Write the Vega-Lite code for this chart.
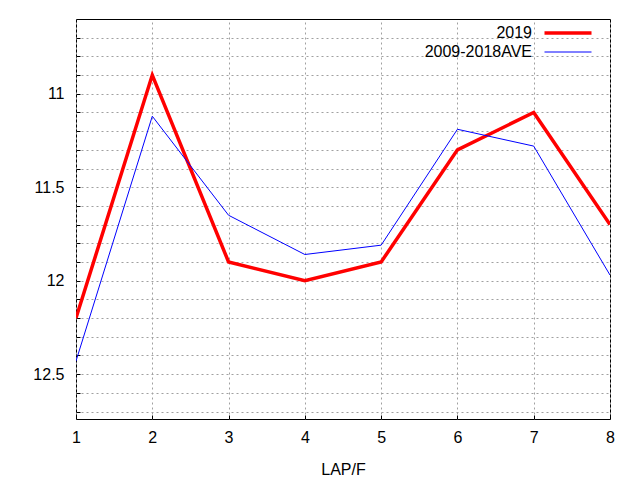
{
  "$schema": "https://vega.github.io/schema/vega-lite/v6.json",
  "autosize": "none",
  "padding": {"left": 76, "top": 19, "right": 30, "bottom": 61},
  "width": 534,
  "height": 400,
  "background": "white",
  "config": {
    "font": "Liberation Sans",
    "view": {"stroke": "black", "strokeWidth": 1},
    "axis": {
      "labelFont": "Liberation Sans",
      "labelFontSize": 16,
      "labelColor": "black",
      "labelFlush": false,
      "titleFont": "Liberation Sans",
      "titleFontSize": 16,
      "titleFontWeight": "normal",
      "titleColor": "black",
      "domain": false,
      "grid": true,
      "gridColor": "#a0a0a0",
      "gridDash": [2, 3],
      "gridWidth": 1,
      "tickColor": "black",
      "tickSize": -4
    }
  },
  "data": {
    "values": [
      {"lap": 1, "series": "2019", "time": 12.2},
      {"lap": 2, "series": "2019", "time": 10.9},
      {"lap": 3, "series": "2019", "time": 11.9},
      {"lap": 4, "series": "2019", "time": 12.0},
      {"lap": 5, "series": "2019", "time": 11.9},
      {"lap": 6, "series": "2019", "time": 11.3},
      {"lap": 7, "series": "2019", "time": 11.1},
      {"lap": 8, "series": "2019", "time": 11.7},
      {"lap": 1, "series": "2009-2018AVE", "time": 12.43},
      {"lap": 2, "series": "2009-2018AVE", "time": 11.12},
      {"lap": 3, "series": "2009-2018AVE", "time": 11.65},
      {"lap": 4, "series": "2009-2018AVE", "time": 11.86},
      {"lap": 5, "series": "2009-2018AVE", "time": 11.81},
      {"lap": 6, "series": "2009-2018AVE", "time": 11.19},
      {"lap": 7, "series": "2009-2018AVE", "time": 11.28},
      {"lap": 8, "series": "2009-2018AVE", "time": 11.97}
    ]
  },
  "mark": {"type": "line", "clip": true},
  "encoding": {
    "x": {
      "field": "lap",
      "type": "quantitative",
      "scale": {"domain": [1, 8], "nice": false, "zero": false},
      "axis": {
        "title": "LAP/F",
        "values": [1, 2, 3, 4, 5, 6, 7, 8],
        "format": "d",
        "labelPadding": 14,
        "titlePadding": 16
      }
    },
    "y": {
      "field": "time",
      "type": "quantitative",
      "scale": {"domain": [10.6, 12.74], "reverse": true, "nice": false, "zero": false},
      "axis": {
        "title": null,
        "values": [10.7, 10.8, 10.9, 11, 11.1, 11.2, 11.3, 11.4, 11.5, 11.6, 11.7, 11.8, 11.9, 12, 12.1, 12.2, 12.3, 12.4, 12.5, 12.6, 12.7],
        "labelExpr": "datum.value == 11 || datum.value == 11.5 || datum.value == 12 || datum.value == 12.5 ? '' + datum.value : ''",
        "labelPadding": 16
      }
    },
    "color": {
      "field": "series",
      "type": "nominal",
      "scale": {"domain": ["2019", "2009-2018AVE"], "range": ["#ff0000", "#0000ff"]},
      "legend": {
        "title": null,
        "orient": "none",
        "legendX": 484,
        "legendY": 6,
        "padding": 0,
        "symbolType": "stroke",
        "symbolSize": 2209,
        "symbolStrokeWidth": 1,
        "labelFont": "Liberation Sans",
        "labelFontSize": 16,
        "labelColor": "black",
        "labelAlign": "right",
        "labelOffset": -44,
        "rowPadding": 3,
        "encode": {
          "symbols": {
            "update": {"strokeWidth": {"signal": "datum.value === '2019' ? 3.5 : 1"}}
          }
        }
      }
    },
    "strokeWidth": {
      "condition": {"test": "datum.series === '2019'", "value": 3.5},
      "value": 1
    }
  }
}
